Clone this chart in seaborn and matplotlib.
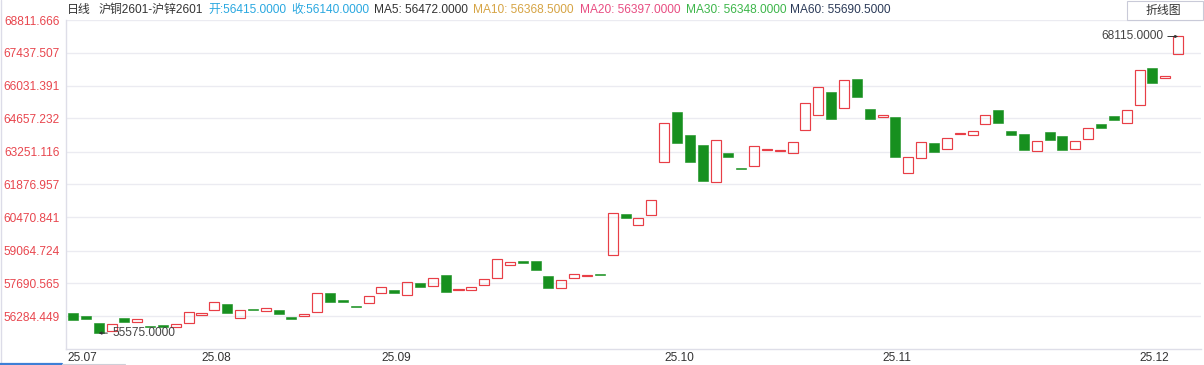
import numpy as np
import pandas as pd
import matplotlib
matplotlib.use("Agg")
import matplotlib.pyplot as plt
import seaborn as sns
from matplotlib.lines import Line2D
from matplotlib.patches import Rectangle

# ---------------- data ----------------
opens = [56415, 56285, 56005, 55665, 56230, 56060, 55875, 55905, 55835, 56005,
         56330, 56540, 56805, 56200, 56595, 56500, 56555, 56245, 56310, 56470,
         57285, 56975, 56720, 56860, 57285, 57410, 57200, 57695, 57555, 58030,
         57385, 57410, 57595, 57890, 58465, 58610, 58610, 58000, 57495, 57890,
         58000, 58085, 58890, 60610, 60155, 60555, 62820, 64915, 63960, 63525,
         61960, 63175, 62550, 62635, 63310, 63280, 63175, 64145, 64780, 65760,
         65075, 66300, 65045, 64705, 64720, 62355, 62985, 63610, 63340, 63990,
         63935, 64400, 65000, 64100, 63990, 63255, 64060, 63905, 63365, 63765,
         64410, 64735, 64440, 65200, 66775, 66365, 67395]
closes = [56140, 56185, 55575, 55975, 56060, 56160, 55835, 55820, 55950, 56470,
          56425, 56880, 56440, 56540, 56555, 56635, 56370, 56185, 56385, 57285,
          56880, 56880, 56690, 57155, 57510, 57260, 57735, 57510, 57890, 57315,
          57440, 57525, 57850, 58695, 58570, 58550, 58230, 57495, 57805, 58060,
          58045, 58045, 60640, 60425, 60425, 61200, 64465, 63620, 62790, 62015,
          63720, 63015, 62495, 63470, 63355, 63310, 63640, 65285, 65960, 64635,
          66270, 65565, 64635, 64780, 63015, 63005, 63640, 63240, 63805, 64030,
          64100, 64780, 64440, 63960, 63325, 63680, 63745, 63300, 63690, 64240,
          64255, 64565, 65000, 66705, 66155, 66425, 68115]

month_labels = ["25.07", "25.08", "25.09", "25.10", "25.11", "25.12"]
month_pos = [-0.47, 10, 24, 46, 63, 83]

ytick_labels = ["68811.666", "67437.507", "66031.391", "64657.232", "63251.116",
                "61876.957", "60470.841", "59064.724", "57690.565", "56284.449"]
ytick_vals = [float(s) for s in ytick_labels]

low_label = 55575.0
high_label = 68115.0

header = [
    (67, "日线", "#333333"),
    (98.7, "沪铜2601-沪锌2601", "#333333"),
    (208.3, "开:56415.0000", "#2aa8e0"),
    (291, "收:56140.0000", "#2aa8e0"),
    (374, "MA5: 56472.0000", "#333333"),
    (472.7, "MA10: 56368.5000", "#d6a444"),
    (580, "MA20: 56397.0000", "#e84d82"),
    (685.5, "MA30: 56348.0000", "#3db64a"),
    (790, "MA60: 55690.5000", "#2b3a58"),
]

RED = "#e83e46"
GREEN = "#17901f"
FS = 8.6

# ---------------- figure ----------------
sns.set_theme(style="white")
plt.rcParams["font.family"] = ["Liberation Sans", "Noto Sans CJK SC", "DejaVu Sans"]

W, H = 1204, 365
fig = plt.figure(figsize=(W / 100, H / 100), dpi=100)
ax = fig.add_axes([66 / W, (H - 349) / H, (1201 - 66) / W, (349 - 20) / H])

df = pd.DataFrame({"i": np.arange(len(opens)), "open": opens, "close": closes})
df["low"] = df[["open", "close"]].min(axis=1)
df["body"] = (df["close"] - df["open"]).abs()
up = df[df["close"] >= df["open"]].sort_values("i")
down = df[df["close"] < df["open"]].sort_values("i")

sns.barplot(x=up["i"].to_numpy(), y=up["body"].to_numpy(),
            bottom=up["low"].to_numpy(), native_scale=True, orient="x",
            fill=False, color=RED, saturation=1, errorbar=None, width=0.78,
            linewidth=0.85, ax=ax)
sns.barplot(x=down["i"].to_numpy(), y=down["body"].to_numpy(),
            bottom=down["low"].to_numpy(), native_scale=True, orient="x",
            fill=True, color=GREEN, edgecolor=GREEN, saturation=1,
            errorbar=None, width=0.78, linewidth=0.4, ax=ax)

ax.set_xlim(-0.545, 87.78)
ax.set_ylim(54903, 68812)

ax.set_yticks(ytick_vals)
ax.set_yticklabels(ytick_labels)
ax.tick_params(axis="y", length=0, pad=4.6, labelsize=FS, labelcolor="#e8464e")

ax.set_xticks(month_pos)
ax.set_xticklabels(month_labels, ha="left")
ax.tick_params(axis="x", length=3, width=0.8, color="#d8d8e2", pad=-1,
               labelsize=FS, labelcolor="#333333")
ax.set_xlabel("")
ax.set_ylabel("")

ax.grid(axis="y", color="#ebebf1", linewidth=1.0)
ax.grid(axis="x", visible=False)
ax.set_axisbelow(True)
for s in ["top", "right"]:
    ax.spines[s].set_visible(False)
for s in ["left", "bottom"]:
    ax.spines[s].set_color("#dedee8")
    ax.spines[s].set_linewidth(1.0)

# low / high markers
ax.annotate(f"{low_label:.4f}", xy=(2, low_label), xytext=(9.6, 0),
            textcoords="offset points", ha="left", va="center",
            fontsize=FS, color="#444444",
            arrowprops=dict(arrowstyle="-|>", color="#333333", lw=0.7,
                            mutation_scale=4, shrinkA=1, shrinkB=0))
ax.annotate(f"{high_label:.4f}", xy=(86, high_label), xytext=(-10.8, 0),
            textcoords="offset points", ha="right", va="center",
            fontsize=FS, color="#444444",
            arrowprops=dict(arrowstyle="-|>", color="#333333", lw=0.7,
                            mutation_scale=4, shrinkA=1, shrinkB=0))

# header
for x, txt, col in header:
    fig.text(x / W, 1 - 10 / H, txt, ha="left", va="center", fontsize=FS, color=col)

# button
fig.patches.append(Rectangle((1127 / W, 1 - 20 / H), 75.5 / W, 19 / H,
                             transform=fig.transFigure, facecolor="white",
                             edgecolor="#c9cad8", linewidth=0.8))
fig.text(1163 / W, 1 - 10.5 / H, "折线图", ha="center", va="center",
         fontsize=FS, color="#333333")

# frame and scroll stub
fig.add_artist(Line2D([0.5 / W, 0.5 / W], [0, 1], transform=fig.transFigure,
                      color="#dcdce8", linewidth=1))
fig.add_artist(Line2D([0, 62 / W], [1 - 364 / H, 1 - 364 / H],
                      transform=fig.transFigure, color="#3d7fd6", linewidth=1.6))
fig.add_artist(Line2D([62 / W, 125 / W], [1 - 364 / H, 1 - 364 / H],
                      transform=fig.transFigure, color="#cfcfd8", linewidth=0.8))

fig.savefig("out.png", dpi=100, facecolor="white")
